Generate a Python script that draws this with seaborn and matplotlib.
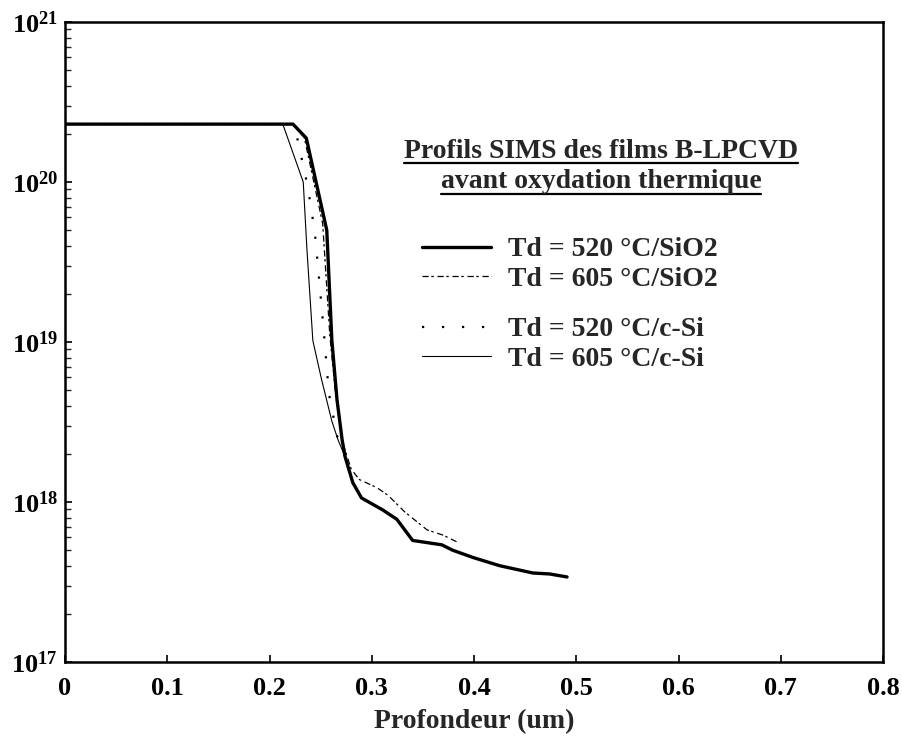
import numpy as np
import pandas as pd
import matplotlib
matplotlib.use("Agg")
import matplotlib.pyplot as plt
import seaborn as sns
from matplotlib.lines import Line2D
from matplotlib.ticker import LogLocator, FixedLocator, NullFormatter

# SIMS boron profiles (depth in um, concentration in at/cm3)
depth_520_sio2 = [0.0, 0.223, 0.236, 0.256, 0.261, 0.266, 0.271, 0.274, 0.2815, 0.290,
                  0.311, 0.3245, 0.340, 0.3685, 0.379, 0.399, 0.425, 0.4575, 0.474, 0.491]
conc_520_sio2 = [2.3e20, 2.3e20, 1.88e20, 5.0e19, 1.02e19, 4.37e18, 2.45e18, 1.91e18, 1.32e18, 1.06e18,
                 8.9e17, 7.8e17, 5.75e17, 5.4e17, 5.0e17, 4.5e17, 4.0e17, 3.6e17, 3.55e17, 3.4e17]

depth_605_sio2 = [0.0, 0.222, 0.234, 0.252, 0.259, 0.265, 0.272, 0.280, 0.288, 0.305,
                  0.316, 0.332, 0.354, 0.370, 0.384]
conc_605_sio2 = [2.3e20, 2.3e20, 1.9e20, 5.5e19, 1.1e19, 4.5e18, 2.3e18, 1.6e18, 1.38e18, 1.23e18,
                 1.1e18, 8.7e17, 6.7e17, 6.2e17, 5.6e17]

depth_520_csi = [0.0, 0.218, 0.227, 0.2375, 0.2444, 0.253, 0.258, 0.266, 0.274]
conc_520_csi = [2.3e20, 2.3e20, 1.9e20, 9.3e19, 4.8e19, 1.19e19, 4.8e18, 2.6e18, 1.91e18]

depth_605_csi = [0.0, 0.213, 0.233, 0.2366, 0.2424, 0.251, 0.261, 0.267, 0.274]
conc_605_csi = [2.3e20, 2.3e20, 1.0e20, 3.8e19, 1.02e19, 5.8e18, 3.2e18, 2.45e18, 1.91e18]

labels = ["Td = 520 °C/SiO2", "Td = 605 °C/SiO2", "Td = 520 °C/c-Si", "Td = 605 °C/c-Si"]
x_ticks = [0, 0.1, 0.2, 0.3, 0.4, 0.5, 0.6, 0.7, 0.8]
x_tick_labels = ["0", "0.1", "0.2", "0.3", "0.4", "0.5", "0.6", "0.7", "0.8"]
y_decades = [17, 18, 19, 20, 21]

sns.set_theme(style="ticks")
plt.rcParams["font.family"] = ["Liberation Serif", "DejaVu Serif"]
plt.rcParams["font.weight"] = "bold"
plt.rcParams["mathtext.fontset"] = "custom"
plt.rcParams["mathtext.rm"] = "Liberation Serif:bold"
plt.rcParams["mathtext.bf"] = "Liberation Serif:bold"
plt.rcParams["mathtext.it"] = "Liberation Serif:bold"

W, H = 902, 739
fig = plt.figure(figsize=(W / 100, H / 100), dpi=100)
L, R, B, T = 65, 883, 662, 22
ax = fig.add_axes([L / W, 1 - B / H, (R - L) / W, (B - T) / H])

styles = {
    labels[3]: dict(color="black", lw=0.8, ls="-"),
    labels[2]: dict(color="black", lw=1.6, ls=(0, (1.0, 8.0))),
    labels[1]: dict(color="black", lw=0.9, ls=(0, (5.0, 2.0, 2.0, 3.0))),
    labels[0]: dict(color="black", lw=2.4, ls="-"),
}
series = {
    labels[0]: (depth_520_sio2, conc_520_sio2),
    labels[1]: (depth_605_sio2, conc_605_sio2),
    labels[2]: (depth_520_csi, conc_520_csi),
    labels[3]: (depth_605_csi, conc_605_csi),
}
handles = {}
for lab in [labels[3], labels[2], labels[1], labels[0]]:
    d, c = series[lab]
    df = pd.DataFrame({"depth": d, "conc": c})
    st = styles[lab]
    sns.lineplot(data=df, x="depth", y="conc", ax=ax, estimator=None, sort=False,
                 color=st["color"], lw=st["lw"], linestyle=st["ls"])
    handles[lab] = Line2D([], [], color=st["color"], lw=st["lw"], linestyle=st["ls"])

ax.set_yscale("log")
ax.set_xlim(0, 0.8)
ax.set_ylim(1e17, 1e21)

ax.xaxis.set_major_locator(FixedLocator(x_ticks))
ax.set_xticklabels(x_tick_labels)
ax.yaxis.set_major_locator(FixedLocator([10.0 ** e for e in y_decades]))
ax.set_yticklabels([r"$10^{%d}$" % e for e in y_decades])
ax.yaxis.set_minor_locator(LogLocator(base=10, subs=np.arange(2, 10), numticks=20))
ax.yaxis.set_minor_formatter(NullFormatter())

ax.tick_params(axis="both", which="major", direction="in", length=5, width=1.2,
               labelsize=19, top=False, right=False, colors="black")
ax.tick_params(axis="y", which="minor", direction="in", length=4, width=1.0, right=False)
ax.tick_params(axis="x", pad=11)
ax.tick_params(axis="y", pad=5)
for lbl in ax.get_xticklabels() + ax.get_yticklabels():
    lbl.set_fontweight("bold")

for sp in ax.spines.values():
    sp.set_visible(True)
    sp.set_linewidth(1.8)
    sp.set_color("black")

ax.set_xlabel("Profondeur (um)", fontsize=20, fontweight="bold", labelpad=6)
ax.set_ylabel("")
ax.grid(False)

# Legend block: two groups of entries
fs = 20
def px(x, y):
    return (x / W, 1 - y / H)

leg_kw = dict(loc="upper left", bbox_transform=fig.transFigure, frameon=False,
              handlelength=2.5, handletextpad=0.58, borderpad=0, borderaxespad=0,
              labelspacing=0.13,
              prop={"family": "Liberation Serif", "weight": "bold", "size": fs})
leg1 = ax.legend([handles[labels[0]], handles[labels[1]]], labels[:2],
                 bbox_to_anchor=px(422, 237), **leg_kw)
ax.add_artist(leg1)
leg2 = ax.legend([handles[labels[2]], handles[labels[3]]], labels[2:],
                 bbox_to_anchor=px(422, 317), **leg_kw)

# Underlined title of the legend block
t1 = fig.text(601 / W, 1 - 151 / H, "Profils SIMS des films B-LPCVD", ha="center", va="center",
              fontsize=fs, fontweight="bold")
t2 = fig.text(601 / W, 1 - 182 / H, "avant oxydation thermique", ha="center", va="center",
              fontsize=fs, fontweight="bold")
fig.canvas.draw()
r = fig.canvas.get_renderer()
for t in (t1, t2):
    bb = t.get_window_extent(renderer=r)
    yline = bb.y0 + 1
    fig.add_artist(Line2D([bb.x0 / W, bb.x1 / W], [yline / H, yline / H],
                          transform=fig.transFigure, color="black", lw=1.6))

fig.savefig("out.png", dpi=100)
